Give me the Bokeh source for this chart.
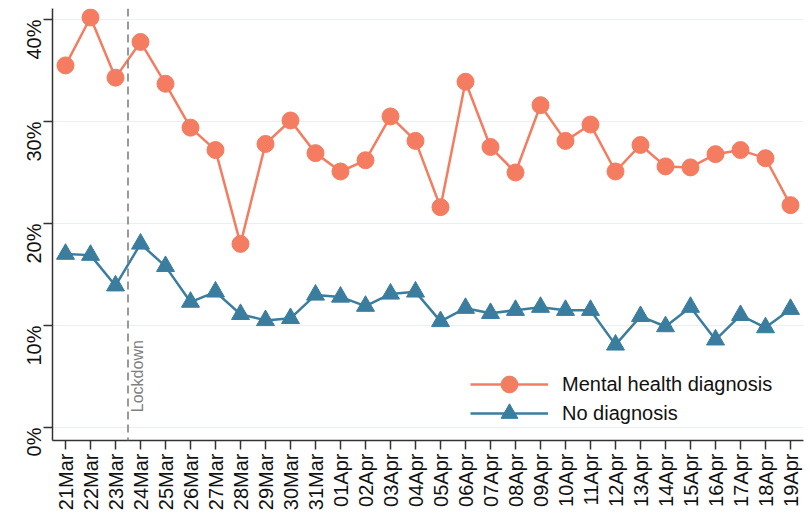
import math
from bokeh.plotting import figure
from bokeh.models import Span, Label, FixedTicker, Legend, LegendItem, Range1d
from bokeh.embed import file_html
from bokeh.resources import INLINE

dates = ["21Mar", "22Mar", "23Mar", "24Mar", "25Mar", "26Mar", "27Mar", "28Mar",
         "29Mar", "30Mar", "31Mar", "01Apr", "02Apr", "03Apr", "04Apr", "05Apr",
         "06Apr", "07Apr", "08Apr", "09Apr", "10Apr", "11Apr", "12Apr", "13Apr",
         "14Apr", "15Apr", "16Apr", "17Apr", "18Apr", "19Apr"]
mental_health = [35.5, 40.2, 34.3, 37.8, 33.7, 29.4, 27.2, 18.0, 27.8, 30.1,
                 26.9, 25.1, 26.2, 30.5, 28.1, 21.6, 33.9, 27.5, 25.0, 31.6,
                 28.1, 29.7, 25.1, 27.7, 25.6, 25.5, 26.8, 27.2, 26.4, 21.8]
no_diagnosis = [17.0, 16.9, 13.9, 18.0, 15.8, 12.3, 13.3, 11.1, 10.5, 10.7,
                13.0, 12.8, 11.9, 13.1, 13.3, 10.4, 11.7, 11.2, 11.5, 11.8,
                11.5, 11.5, 8.1, 10.9, 9.9, 11.8, 8.6, 11.0, 9.8, 11.6]
y_ticks = [0, 10, 20, 30, 40]
y_tick_labels = ["0%", "10%", "20%", "30%", "40%"]
lockdown_pos = 2.5
lockdown_label = "Lockdown"
series_names = ["Mental health diagnosis", "No diagnosis"]

x = list(range(len(dates)))

SALMON = "#F47C60"
TEAL = "#3A7D9F"
FONT = "Liberation Sans"

p = figure(frame_width=751, frame_height=432, output_backend="svg",
           toolbar_location=None,
           x_range=Range1d(-0.52, 29.52), y_range=Range1d(-1.275, 41.08),
           min_border_left=52, min_border_right=1, min_border_top=8,
           min_border_bottom=10)
p.outline_line_color = None
p.background_fill_color = "white"

# grid
p.xgrid.grid_line_color = None
p.ygrid.grid_line_color = "#E8F0F2"
p.ygrid.grid_line_width = 1.2
p.ygrid.ticker = FixedTicker(ticks=y_ticks)

# axes
p.yaxis.ticker = FixedTicker(ticks=y_ticks)
p.yaxis.major_label_overrides = {t: l for t, l in zip(y_ticks, y_tick_labels)}
p.xaxis.ticker = FixedTicker(ticks=x)
p.xaxis.major_label_overrides = {i: d for i, d in zip(x, dates)}
for ax in (p.xaxis, p.yaxis):
    ax.axis_line_color = "#333333"
    ax.axis_line_width = 1.5
    ax.major_tick_line_color = "#333333"
    ax.major_tick_line_width = 1.5
    ax.major_tick_out = 9
    ax.major_tick_in = 0
    ax.minor_tick_line_color = None
    ax.major_label_text_font = FONT
    ax.major_label_text_color = "#111111"
p.yaxis.major_label_text_font_size = "20px"
p.xaxis.major_label_text_font_size = "20px"
p.yaxis.major_label_orientation = math.pi / 2
p.xaxis.major_label_orientation = math.pi / 2
p.yaxis.major_label_standoff = 9
p.xaxis.major_label_standoff = 4

# lockdown line
p.add_layout(Span(location=lockdown_pos, dimension="height", line_color="#808080",
                  line_width=1.6, line_dash="8 5"))
p.add_layout(Label(x=lockdown_pos, y=1.5, text=lockdown_label, angle=math.pi / 2,
                   text_align="left", text_baseline="top", x_offset=1,
                   text_color="#808080", text_font=FONT, text_font_size="16px"))

# series
l1 = p.line(x, mental_health, line_color=SALMON, line_width=2.5)
s1 = p.scatter(x, mental_health, marker="circle", size=17, fill_color=SALMON,
               line_color=SALMON)
l2 = p.line(x, no_diagnosis, line_color=TEAL, line_width=2.5)
s2 = p.scatter(x, no_diagnosis, marker="triangle", size=18, fill_color=TEAL,
               line_color=TEAL)

def make_legend(label, renderers, loc):
    return Legend(items=[LegendItem(label=label, renderers=renderers)],
                  location=loc, orientation="vertical",
                  border_line_color=None, background_fill_alpha=0,
                  label_text_font=FONT, label_text_font_size="20px",
                  label_text_color="#111111",
                  glyph_width=78, glyph_height=42, spacing=0, padding=0,
                  margin=0, label_standoff=14)

p.add_layout(make_legend(series_names[0], [l1, s1], (418, 35)))
p.add_layout(make_legend(series_names[1], [l2, s2], (418, 6)))

open("out.html", "w").write(file_html(p, INLINE))
